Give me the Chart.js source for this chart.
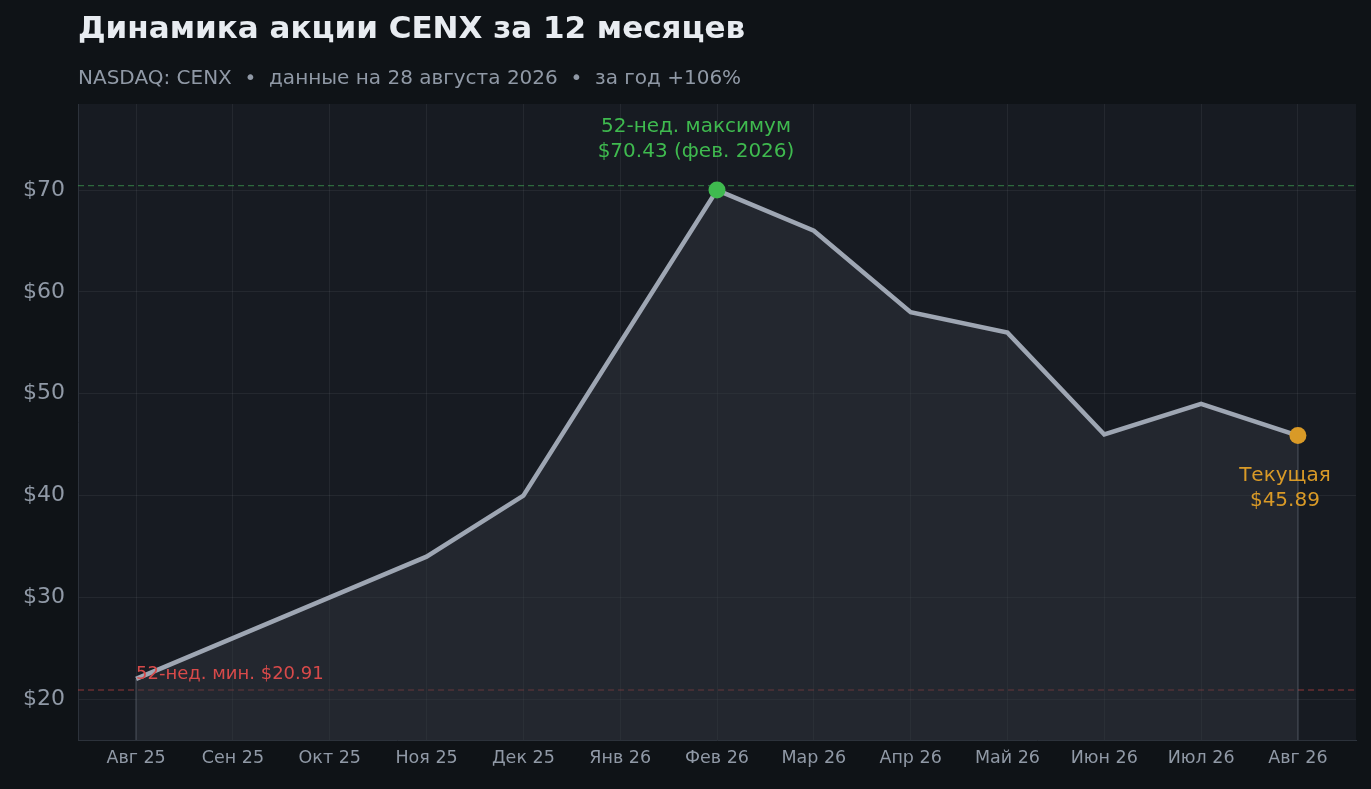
<!DOCTYPE html><html><head><meta charset="utf-8">
<script src="https://cdn.jsdelivr.net/npm/chart.js@4/dist/chart.umd.min.js"></script>
<style>html,body{margin:0;background:#0f1317;}#w{width:1371px;height:789px;}</style></head><body>
<div id="w"><canvas id="c"></canvas></div>
<script>
const months=["Авг 25","Сен 25","Окт 25","Ноя 25","Дек 25","Янв 26","Фев 26","Мар 26","Апр 26","Май 26","Июн 26","Июл 26","Авг 26"];
const prices=[22,26,30,34,40,55,70,66,58,56,46,49,45.89];
const high52=70.43, low52=20.91, maxIdx=6, curIdx=12;
const FONT="'DejaVu Sans', sans-serif";
const deco={id:'deco',
beforeDraw(ch){const {ctx,chartArea:a}=ch;ctx.save();ctx.fillStyle='#171b22';ctx.fillRect(a.left,a.top,a.right-a.left,a.bottom-a.top);ctx.restore();},
beforeDatasetsDraw(ch){const {ctx,chartArea:a,scales:{x,y}}=ch;ctx.save();ctx.lineWidth=1.2;ctx.setLineDash([6,4]);
 ctx.strokeStyle='rgba(60,160,80,0.6)';let yy=y.getPixelForValue(high52);ctx.beginPath();ctx.moveTo(a.left,yy);ctx.lineTo(a.right,yy);ctx.stroke();
 ctx.strokeStyle='rgba(210,70,70,0.65)';yy=y.getPixelForValue(low52);ctx.beginPath();ctx.moveTo(a.left,yy);ctx.lineTo(a.right,yy);ctx.stroke();
 ctx.setLineDash([]);ctx.strokeStyle='rgba(150,160,175,0.3)';ctx.lineWidth=1.5;
 [0,12].forEach(i=>{const px=x.getPixelForValue(i);ctx.beginPath();ctx.moveTo(px,y.getPixelForValue(prices[i]));ctx.lineTo(px,a.bottom);ctx.stroke();});
 ctx.restore();},
afterDraw(ch){const {ctx,scales:{x,y}}=ch;ctx.save();
 ctx.textAlign='left';ctx.textBaseline='alphabetic';ctx.fillStyle='#e8ecf1';ctx.font='bold 31px '+FONT;ctx.fillText('Динамика акции CENX за 12 месяцев',78,38);
 ctx.fillStyle='#9099a6';ctx.font='20px '+FONT;ctx.fillText('NASDAQ: CENX  •  данные на 28 августа 2026  •  за год +106%',78,84);
 ctx.textAlign='center';ctx.fillStyle='#3fba4f';ctx.font='20px '+FONT;
 const mx=x.getPixelForValue(maxIdx);ctx.fillText('52-нед. максимум',mx-21,132);ctx.fillText('$70.43 (фев. 2026)',mx-21,157);
 ctx.fillStyle='#d99a27';const cx=x.getPixelForValue(curIdx);ctx.fillText('Текущая',cx-13,481);ctx.fillText('$45.89',cx-13,506);
 ctx.textAlign='left';ctx.fillStyle='#d84a4a';ctx.font='18px '+FONT;ctx.fillText('52-нед. мин. $20.91',x.getPixelForValue(0),679);
 ctx.restore();}};
new Chart(document.getElementById('c'),{type:'line',
data:{datasets:[{data:prices.map((v,i)=>({x:i,y:v})),borderColor:'#9ea6b3',borderWidth:4.5,fill:'start',backgroundColor:'rgba(50,55,65,0.45)',tension:0,
 pointRadius:prices.map((v,i)=>i===maxIdx||i===curIdx?8.5:0),pointBackgroundColor:prices.map((v,i)=>i===maxIdx?'#3fba4f':'#d99a27'),pointBorderWidth:0,pointHoverRadius:0}]},
options:{responsive:true,maintainAspectRatio:false,animation:false,events:[],
 layout:{padding:{top:104,right:15,left:0,bottom:0}},
 plugins:{legend:{display:false},tooltip:{enabled:false}},
 scales:{
  x:{type:'linear',min:-0.6,max:12.6,afterBuildTicks(s){s.ticks=months.map((m,i)=>({value:i}));},
   ticks:{callback:v=>months[v],color:'#9099a6',font:{family:FONT,size:17.5},maxRotation:0,autoSkip:false,padding:8},
   grid:{color:'rgba(255,255,255,0.06)',drawTicks:false},border:{color:'#2c323b'},afterFit(s){s.height=49;}},
  y:{min:16,max:78.45,afterBuildTicks(s){s.ticks=[20,30,40,50,60,70].map(v=>({value:v}));},
   ticks:{callback:v=>'$'+v,color:'#9099a6',font:{family:FONT,size:22},padding:13},
   grid:{color:'rgba(255,255,255,0.06)',drawTicks:false},border:{color:'#2c323b'},afterFit(s){s.width=78;}}}},
plugins:[deco]});
</script></body></html>
